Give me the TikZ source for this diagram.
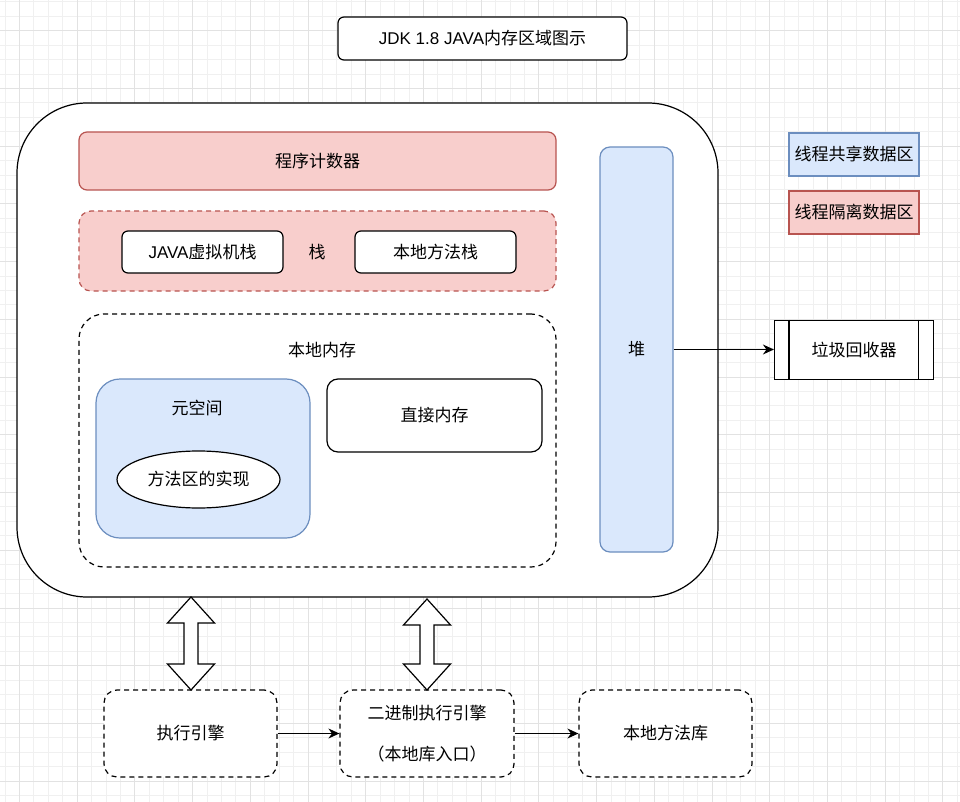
\documentclass[tikz,border=0pt]{standalone}
\usepackage{fontspec}
\setmainfont{Noto Sans CJK SC}
\newfontfamily\latinfont{Liberation Sans}
\usepackage{xcolor}
\usepackage{tikz}
\usetikzlibrary{arrows.meta,positioning,shapes.geometric}
\definecolor{redfill}{HTML}{F8CECC}
\definecolor{redline}{HTML}{B85450}
\definecolor{bluefill}{HTML}{DAE8FC}
\definecolor{blueline}{HTML}{6C8EBF}
\definecolor{gridminor}{HTML}{F0F0F0}
\definecolor{gridmajor}{HTML}{E2E2E2}

\begin{document}
\begin{tikzpicture}[
    x=1pt, y=-1pt,
    >={Stealth[length=11pt,width=10pt]},
    font=\fontsize{17}{20}\selectfont,
    plainbox/.style={draw=black, line width=1.2pt, fill=white,
        rounded corners=#1, inner sep=0pt, align=center},
    plainbox/.default=7pt,
    redbox/.style={draw=redline, line width=1.2pt, fill=redfill,
        rounded corners=#1, inner sep=0pt, align=center},
    redbox/.default=8pt,
    bluebox/.style={draw=blueline, line width=1.2pt, fill=bluefill,
        rounded corners=#1, inner sep=0pt, align=center},
    bluebox/.default=8pt,
    dashbox/.style={dash pattern=on 5pt off 4pt},
    lbl/.style={inner sep=0pt},
    flow/.style={->, line width=1.2pt},
]
\useasboundingbox (0,0) rectangle (960,802);
\fill[white] (0,0) rectangle (960,802);

% grid
\foreach \i in {0,...,66}
    \draw[gridminor, line width=0.8pt] ({4.9+14.43*\i},0) -- ({4.9+14.43*\i},802);
\foreach \j in {0,...,55}
    \draw[gridminor, line width=0.8pt] (0,{1.84+14.43*\j}) -- (960,{1.84+14.43*\j});
\foreach \i in {0,...,16}
    \draw[gridmajor, line width=0.8pt] ({19.3+57.72*\i},0) -- ({19.3+57.72*\i},802);
\foreach \j in {0,...,13}
    \draw[gridmajor, line width=0.8pt] (0,{30.7+57.72*\j}) -- (960,{30.7+57.72*\j});

\node[plainbox=6pt, minimum width=289pt, minimum height=43pt] (title)
    at (482.5,38.5) {{\latinfont JDK 1.8 JAVA}内存区域图示};

% runtime area
\node[plainbox=70pt, minimum width=701pt, minimum height=494pt] (outer)
    at (367.5,350) {};

\node[redbox=8pt, minimum width=477pt, minimum height=58pt] (pc)
    at (317.5,161) {程序计数器};

\node[redbox=12pt, dashbox, minimum width=477pt, minimum height=80pt] (stack)
    at (317.5,251) {};
\node[plainbox=6pt, minimum width=161pt, minimum height=42pt] (jvmstack)
    at (202.5,252) {{\latinfont JAVA}虚拟机栈};
\node[lbl] (stacklbl) at (317,252) {栈};
\node[plainbox=6pt, minimum width=161pt, minimum height=42pt] (nativestack)
    at (435.5,252) {本地方法栈};

\node[plainbox=25pt, dashbox, minimum width=477pt, minimum height=253pt] (localmem)
    at (317.5,440.5) {};
\node[lbl] (localmemlbl) at (322,350) {本地内存};

\node[bluebox=24pt, minimum width=214pt, minimum height=159pt] (meta)
    at (203,458.5) {};
\node[lbl] (metalbl) at (197,408) {元空间};
\node[ellipse, draw, line width=1.2pt, fill=white, inner sep=0pt,
    minimum width=163pt, minimum height=57pt] (methodarea)
    at (198.5,479.5) {方法区的实现};

\node[plainbox=11pt, minimum width=215pt, minimum height=73pt] (direct)
    at (434.5,415.5) {直接内存};

\node[bluebox=10pt, minimum width=73pt, minimum height=405pt] (heap)
    at (636.5,349.5) {堆};

% garbage collector
\node[plainbox=0pt, minimum width=159pt, minimum height=59pt] (gc)
    at (854,350) {垃圾回收器};
\draw[line width=1.2pt] ([xshift=15pt]gc.north west) -- ([xshift=15pt]gc.south west);
\draw[line width=1.2pt] ([xshift=-16pt]gc.north east) -- ([xshift=-16pt]gc.south east);
\draw[flow] (heap.east) -- (heap.east -| gc.west);

% legend
\node[bluebox=0pt, minimum width=130pt, minimum height=43pt] (shared)
    at (854,154.5) {线程共享数据区};
\node[redbox=0pt, minimum width=130pt, minimum height=43pt] (private)
    at (854,212.5) {线程隔离数据区};

% engines
\node[plainbox=13pt, dashbox, minimum width=173pt, minimum height=87pt] (exec)
    at (190.5,733.5) {执行引擎};
\node[plainbox=13pt, dashbox, minimum width=174pt, minimum height=87pt] (binexec)
    at (427,733.5) {二进制执行引擎\\[21pt]（本地库入口）};
\node[plainbox=13pt, dashbox, minimum width=173pt, minimum height=87pt] (nativelib)
    at (665.5,733.5) {本地方法库};

\draw[flow] (exec) -- (binexec);
\draw[flow] (binexec) -- (nativelib);

% two-way arrows between runtime area and engines
\foreach \x/\ya in {191/597, 427/599}
    \draw[line width=1.2pt, fill=white, line join=miter]
        (\x,\ya) -- ({\x+23.5},{\ya+26}) -- ({\x+7},{\ya+26})
        -- ({\x+7},664) -- ({\x+23.5},664) -- (\x,690)
        -- ({\x-23.5},664) -- ({\x-7},664) -- ({\x-7},{\ya+26})
        -- ({\x-23.5},{\ya+26}) -- cycle;
\end{tikzpicture}
\end{document}
